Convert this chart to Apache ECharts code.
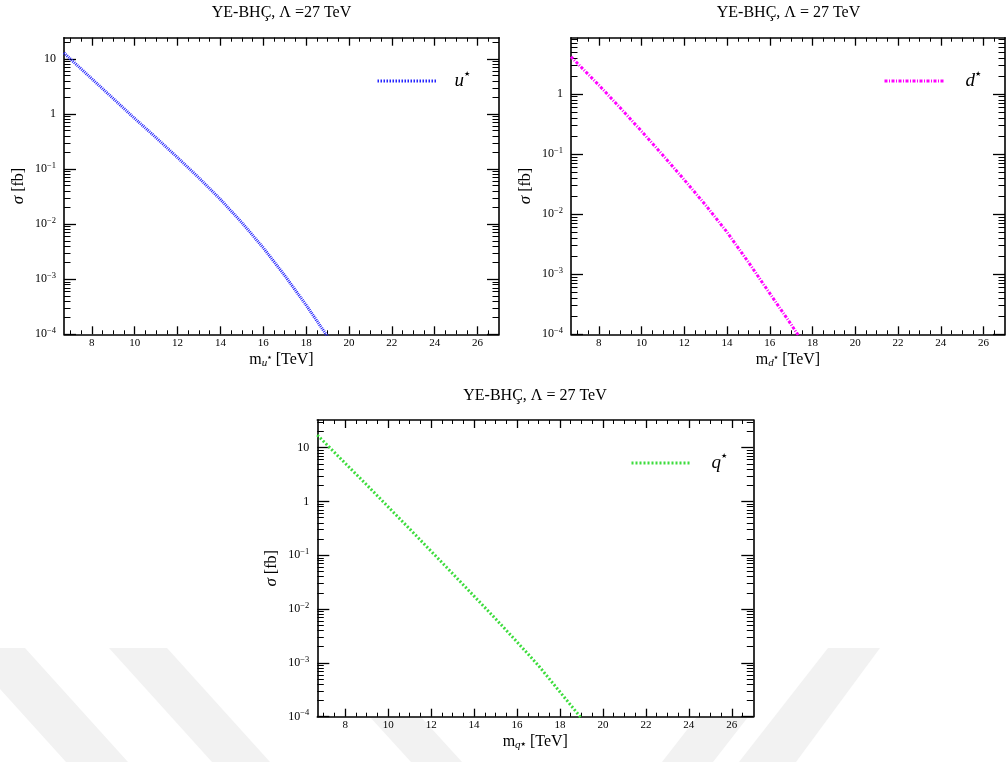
<!DOCTYPE html>
<html><head><meta charset="utf-8">
<script src="https://cdn.jsdelivr.net/npm/echarts@6/dist/echarts.min.js"></script>
<style>html,body{margin:0;padding:0;background:#fff}#c{width:1006px;height:762px}</style>
</head><body><div id="c"></div>
<script>
// ---- data ----
const massU = [6.7, 7, 8, 9, 10, 11, 12, 13, 14, 15, 16, 17, 18, 19];
const sigmaU = [12.9, 10.0, 4.37, 1.91, 0.832, 0.372, 0.162, 0.0692, 0.0282, 0.0107, 0.00372, 0.00117, 0.000339, 0.0000912];
const massD = [6.7, 7, 8, 9, 10, 11, 12, 13, 14, 15, 16, 17, 18];
const sigmaD = [4.17, 3.24, 1.41, 0.589, 0.240, 0.0955, 0.0372, 0.0141, 0.00501, 0.00158, 0.000479, 0.000145, 0.0000427];
const massQ = [6.7, 7, 8, 9, 10, 11, 12, 13, 14, 15, 16, 17, 18, 19];
const sigmaQ = [17.2, 13.0, 5.13, 2.04, 0.794, 0.309, 0.119, 0.0457, 0.0174, 0.00661, 0.00245, 0.000891, 0.000288, 0.0000933];
const xMajorTicks = [8, 10, 12, 14, 16, 18, 20, 22, 24, 26];
const xMinorTicks = [7, 7.5, 8.5, 9, 9.5, 10.5, 11, 11.5, 12.5, 13, 13.5, 14.5, 15, 15.5, 16.5, 17, 17.5, 18.5, 19, 19.5, 20.5, 21, 21.5, 22.5, 23, 23.5, 24.5, 25, 25.5, 26.5];
const yDecadeTicks = [0.0001, 0.001, 0.01, 0.1, 1, 10];
const yTickLabels = ['10^-4', '10^-3', '10^-2', '10^-1', '1', '10'];
const titles = ['YE-BHÇ, Λ =27 TeV', 'YE-BHÇ, Λ = 27 TeV', 'YE-BHÇ, Λ = 27 TeV'];
const seriesNames = ['u*', 'd*', 'q*'];
const xMin = 6.7, xMax = 27, yMin = 0.0001;

// ---- layout / style ----
const SERIF = 'Liberation Serif';
const STAR = 'DejaVu Sans';
const plots = [
  {title: titles[0], rect: {left: 64, top: 37.7, width: 435, height: 296.6}, yMax: 24.4,
   name: seriesNames[0], x: massU, y: sigmaU, color: '#2626ff', dash: [1, 1], legendDash: [1.5, 1.5],
   xName: '{n|m}{sub|u}{sst|★}{n| [TeV]}', titleX: 281.5, titleY: 5,
   legend: {left: 376, top: 71}, legendLabel: '{i|u}{st|★}', legendPad: 12},
  {title: titles[1], rect: {left: 571, top: 37.7, width: 434, height: 296.6}, yMax: 8.65,
   name: seriesNames[1], x: massD, y: sigmaD, color: '#ff00ff', dash: [3, 1.5, 1, 1.5], legendDash: [3, 1.5, 1, 1.5],
   xName: '{n|m}{sub|d}{sst|★}{n| [TeV]}', titleX: 788.5, titleY: 5,
   legend: {left: 883, top: 71}, legendLabel: '{i|d}{st|★}', legendPad: 16},
  {title: titles[2], rect: {left: 317.3, top: 420, width: 436, height: 296.7}, yMax: 32.7,
   name: seriesNames[2], x: massQ, y: sigmaQ, color: '#3ddc3d', dash: [2, 2], legendDash: [2, 2],
   xName: '{n|m}{sub|q}{subst|★}{n| [TeV]}', titleX: 535, titleY: 388,
   legend: {left: 630, top: 453}, legendLabel: '{i|q}{st|★}', legendPad: 15}
];

function minorLogTicks(min, max) {
  const out = [];
  for (let e = -5; e <= 2; e++) for (let m = 2; m <= 9; m++) {
    const v = m * Math.pow(10, e);
    if (v > min * 1.0001 && v < max) out.push(v);
  }
  return out;
}
function yLabelFmt(v) {
  const e = Math.round(Math.log10(v));
  const i = yDecadeTicks.findIndex(t => Math.round(Math.log10(t)) === e);
  const s = i >= 0 ? yTickLabels[i] : String(v);
  if (s.indexOf('10^') === 0) return '{b|10}{s|' + s.slice(3).replace('-', '−') + '}';
  return '{b|' + s + '}';
}

const black = '#000';
const option = {
  animation: false,
  backgroundColor: '#fff',
  title: plots.map(p => ({
    text: p.title, left: p.titleX, top: p.titleY, textAlign: 'center', padding: 0,
    textStyle: {fontFamily: SERIF, fontSize: 16, fontWeight: 'normal', color: black}
  })),
  graphic: {
    elements: [
      {type: 'polygon', z: -10, shape: {points: [[-37, 648], [25, 648], [128, 762], [66, 762]]}, style: {fill: '#f2f2f2'}},
      {type: 'polygon', z: -10, shape: {points: [[109, 648], [167, 648], [270, 762], [212, 762]]}, style: {fill: '#f2f2f2'}},
      {type: 'polygon', z: -10, shape: {points: [[370, 717], [421, 717], [462, 762], [411, 762]]}, style: {fill: '#f2f2f2'}},
      {type: 'polygon', z: -10, shape: {points: [[697, 717], [748, 717], [713, 762], [662, 762]]}, style: {fill: '#f2f2f2'}},
      {type: 'polygon', z: -10, shape: {points: [[828, 648], [880, 648], [796, 762], [739, 762]]}, style: {fill: '#f2f2f2'}}
    ]
  },
  grid: [], xAxis: [], yAxis: [], series: [], legend: []
};

plots.forEach((p, i) => {
  option.grid.push(Object.assign({}, p.rect), Object.assign({}, p.rect));
  const gA = 2 * i, gB = 2 * i + 1;
  const line = {onZero: false, lineStyle: {color: black, width: 1.6}};
  const majTick = (vals, len) => ({inside: true, length: len, customValues: vals, lineStyle: {color: black, width: 1.3}});
  const minTick = (vals, len) => ({inside: true, length: len, customValues: vals, lineStyle: {color: black, width: 1}});
  const bx = {type: 'value', min: xMin, max: xMax, splitLine: {show: false}};
  option.xAxis.push(
    Object.assign({}, bx, {gridIndex: gA, position: 'bottom', axisLine: line, axisTick: majTick(xMajorTicks, 8),
      axisLabel: {customValues: xMajorTicks, margin: 3, fontFamily: SERIF, fontSize: 11, color: black},
      name: p.xName, nameLocation: 'middle', nameGap: 16,
      nameTextStyle: {color: black, fontFamily: SERIF, fontSize: 16, rich: {
        n: {fontFamily: SERIF, fontSize: 16, color: black},
        sub: {fontFamily: SERIF, fontSize: 11, fontStyle: 'italic', color: black, padding: [7, 0, 0, 0]},
        sst: {fontFamily: STAR, fontSize: 5, color: black, padding: [0, 0, 3, 0]},
        subst: {fontFamily: STAR, fontSize: 6, color: black, padding: [6, 0, 0, 0]}
      }}}),
    Object.assign({}, bx, {gridIndex: gA, position: 'top', axisLine: line, axisTick: majTick(xMajorTicks, 8), axisLabel: {show: false}}),
    Object.assign({}, bx, {gridIndex: gB, position: 'bottom', axisLine: {show: false, onZero: false}, axisTick: minTick(xMinorTicks, 4), axisLabel: {show: false}}),
    Object.assign({}, bx, {gridIndex: gB, position: 'top', axisLine: {show: false, onZero: false}, axisTick: minTick(xMinorTicks, 4), axisLabel: {show: false}})
  );
  const by = {type: 'log', logBase: 10, min: yMin, max: p.yMax, splitLine: {show: false}};
  const decs = yDecadeTicks.filter(v => v <= p.yMax);
  const mins = minorLogTicks(yMin, p.yMax);
  option.yAxis.push(
    Object.assign({}, by, {gridIndex: gA, position: 'left', axisLine: line, axisTick: majTick(decs, 12),
      axisLabel: {customValues: decs, margin: 8, formatter: yLabelFmt, color: black, rich: {
        b: {fontFamily: SERIF, fontSize: 12, color: black},
        s: {fontFamily: SERIF, fontSize: 8.5, color: black, padding: [0, 0, 7, 0]}
      }},
      name: '{g|σ} [fb]', nameLocation: 'middle', nameGap: 37,
      nameTextStyle: {fontFamily: SERIF, fontSize: 16, color: black, rich: {
        g: {fontFamily: SERIF, fontSize: 17, fontStyle: 'italic', color: black}
      }}}),
    Object.assign({}, by, {gridIndex: gA, position: 'right', axisLine: line, axisTick: majTick(decs, 12), axisLabel: {show: false}}),
    Object.assign({}, by, {gridIndex: gB, position: 'left', axisLine: {show: false, onZero: false}, axisTick: minTick(mins, 6.5), axisLabel: {show: false}}),
    Object.assign({}, by, {gridIndex: gB, position: 'right', axisLine: {show: false, onZero: false}, axisTick: minTick(mins, 6.5), axisLabel: {show: false}})
  );
  option.series.push({
    name: p.name, type: 'line', xAxisIndex: 4 * i, yAxisIndex: 4 * i,
    data: p.x.map((m, k) => [m, p.y[k]]),
    symbol: 'none', showSymbol: false, smooth: false, clip: true,
    lineStyle: {color: p.color, width: 3, type: p.dash}, itemStyle: {color: p.color}
  });
  option.legend.push({
    data: [p.name], left: p.legend.left, top: p.legend.top, padding: 0,
    itemWidth: 60, itemHeight: 14, selectedMode: false, orient: 'horizontal',
    formatter: () => p.legendLabel,
    itemStyle: {opacity: 0},
    lineStyle: {color: p.color, width: 3, type: p.legendDash, opacity: 1},
    textStyle: {rich: {
      i: {fontFamily: SERIF, fontSize: 19, fontStyle: 'italic', color: black, padding: [0, 0, 0, p.legendPad]},
      st: {fontFamily: STAR, fontSize: 7, color: black, padding: [0, 0, 13, 0]}
    }}
  });
});

const chart = echarts.init(document.getElementById('c'));
chart.setOption(option);
</script>
</body></html>
